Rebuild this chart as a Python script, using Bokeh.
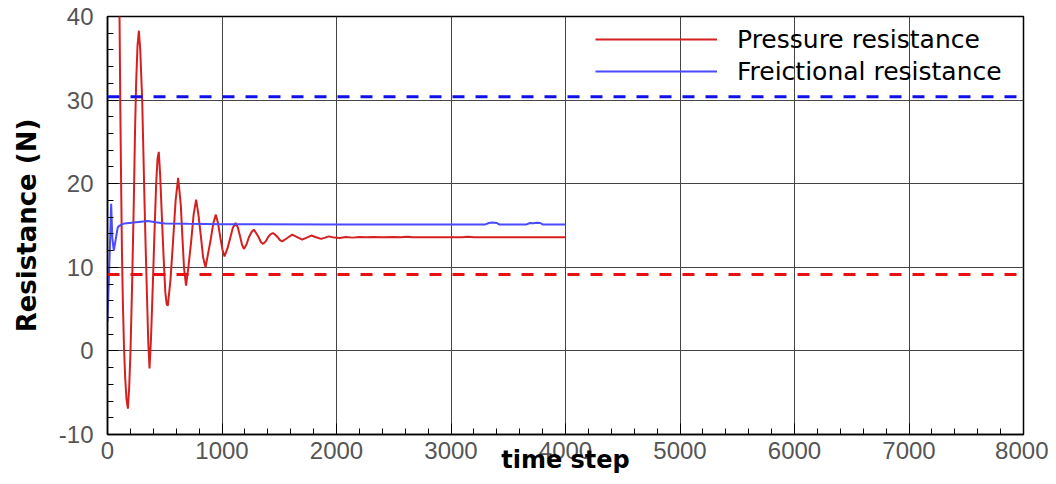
from bokeh.plotting import figure
from bokeh.models import Range1d, SingleIntervalTicker, Span, Legend, LegendItem, ColumnDataSource
from bokeh.embed import file_html
from bokeh.resources import INLINE

# ---- data ----
pressure_t = [0, 100, 105, 112, 119, 126, 134, 144, 154, 166, 178, 189, 201, 215, 230, 240, 250, 262, 274,
              286, 303, 313, 323, 334, 346, 356, 367, 380, 396, 410, 425, 437, 448, 460, 475, 489, 505, 517,
              527, 550, 572, 595, 617, 640, 652, 668, 686, 708, 730, 752, 774, 795, 815, 835, 856, 878, 900,
              923, 946, 965, 985, 1004, 1022, 1046, 1070, 1094, 1118, 1138, 1158, 1175, 1191, 1213, 1235,
              1257, 1278, 1298, 1320, 1340, 1360, 1381, 1402, 1423, 1444, 1465, 1486, 1506, 1526, 1570,
              1613, 1657, 1700, 1740, 1779, 1822, 1866, 1900, 1933, 1980, 2030, 2080, 2140, 2200, 2260,
              2320, 2400, 2500, 2560, 2620, 2660, 2800, 2900, 3000, 3100, 3150, 3200, 3400, 3600, 3800, 4000]
pressure_v = [95, 47, 40, 29, 20, 12, 6, 0.5, -3.1, -5.8, -6.9, -4.5, 0, 8, 18, 26, 32, 36.5, 38.3,
              36, 30, 24, 18, 12, 6, 1, -2.1, 1.5, 8, 14, 20, 23, 23.8, 21, 16, 11.5, 7, 5.6,
              5.4, 8.5, 13, 18, 20.7, 17.5, 14.2, 10, 7.8, 10.2, 13, 16.3, 18.1, 16.2, 13.8, 11.2, 10.0, 11.6, 13.2,
              15.2, 16.3, 15.3, 13.6, 12.1, 11.3, 12.2, 13.4, 14.7, 15.3, 14.8, 13.7, 12.7, 12.2, 12.7, 13.6,
              14.2, 14.5, 14.1, 13.6, 13.0, 12.8, 13.1, 13.6, 13.95, 14.1, 13.9, 13.6, 13.25, 13.1, 13.5,
              13.9, 13.6, 13.3, 13.55, 13.8, 13.6, 13.4, 13.55, 13.7, 13.55, 13.5, 13.62, 13.55, 13.62, 13.58,
              13.62, 13.58, 13.62, 13.6, 13.66, 13.6, 13.6, 13.6, 13.58, 13.6, 13.64, 13.6, 13.6, 13.6, 13.6, 13.6]

friction_t = [0, 20, 32, 42, 55, 70, 90, 120, 150, 250, 352, 420, 500, 700, 1000, 2000, 3300, 3330, 3360,
              3400, 3420, 3660, 3690, 3720, 3750, 3780, 3800, 4000]
friction_v = [3.5, 12, 17.6, 13.5, 12.0, 13.2, 14.8, 15.1, 15.25, 15.4, 15.55, 15.4, 15.25, 15.2, 15.15,
              15.13, 15.13, 15.3, 15.35, 15.3, 15.13, 15.13, 15.3, 15.28, 15.33, 15.3, 15.13, 15.13]

friction_ref = 30.4   # blue dashed reference level
pressure_ref = 9.15   # red dashed reference level

series_labels = ["Pressure resistance", "Freictional resistance"]
x_label = "time step"
y_label = "Resistance (N)"
x_limits = (0, 8000)
y_limits = (-10, 40)

# ---- figure ----
p = figure(width=1048, height=476, output_backend="svg", toolbar_location=None,
           x_range=Range1d(*x_limits), y_range=Range1d(*y_limits),
           min_border_left=107, min_border_right=25, min_border_top=16, min_border_bottom=42)
p.background_fill_color = "white"
p.border_fill_color = "white"
p.outline_line_color = "black"
p.outline_line_width = 1.5

xt = SingleIntervalTicker(interval=1000, num_minor_ticks=5)
yt = SingleIntervalTicker(interval=10, num_minor_ticks=5)
p.xaxis.ticker = xt
p.yaxis.ticker = yt
p.xgrid.ticker = xt
p.ygrid.ticker = yt
for g in (p.xgrid, p.ygrid):
    g.grid_line_color = "#444444"
    g.grid_line_width = 1

for ax in (p.xaxis, p.yaxis):
    ax.axis_line_color = "black"
    ax.axis_line_width = 1.5
    ax.major_tick_in = 11
    ax.major_tick_out = 0
    ax.minor_tick_in = 6
    ax.minor_tick_out = 0
    ax.major_tick_line_color = "black"
    ax.minor_tick_line_color = "black"
    ax.major_label_text_font = "Liberation Sans"
    ax.major_label_text_font_size = "24px"
    ax.major_label_text_color = "#555555"
    ax.axis_label_text_font = "DejaVu Sans"
    ax.axis_label_text_font_style = "bold"
    ax.axis_label_text_color = "black"

p.yaxis.major_label_overrides = {-10: "-10"}

p.xaxis.axis_label = x_label
p.xaxis.axis_label_text_font_size = "24px"
p.xaxis.major_label_standoff = 7
p.xaxis.axis_label_standoff = -16
p.yaxis.axis_label = y_label
p.yaxis.axis_label_text_font_size = "26px"
p.yaxis.major_label_standoff = 14
p.yaxis.axis_label_standoff = 14

src_p = ColumnDataSource(dict(t=pressure_t, v=pressure_v))
src_f = ColumnDataSource(dict(t=friction_t, v=friction_v))
r_p = p.line("t", "v", source=src_p, line_color="#d62020", line_width=2)
r_f = p.line("t", "v", source=src_f, line_color="#4a4aff", line_width=2)

p.add_layout(Span(location=friction_ref, dimension="width", line_color="#1010e8",
                  line_width=3, line_dash="12 11"))
p.add_layout(Span(location=pressure_ref, dimension="width", line_color="#e81010",
                  line_width=3, line_dash="12 11"))

legend = Legend(items=[LegendItem(label=series_labels[0], renderers=[r_p]),
                       LegendItem(label=series_labels[1], renderers=[r_f])],
                location=(488, 347), orientation="vertical",
                glyph_width=122, glyph_height=32, label_height=32, label_standoff=20,
                spacing=0, padding=0, margin=0,
                background_fill_alpha=0, border_line_alpha=0,
                label_text_font="DejaVu Sans", label_text_font_size="25px",
                label_text_color="black")
p.add_layout(legend)

open("out.html", "w").write(file_html(p, INLINE))
